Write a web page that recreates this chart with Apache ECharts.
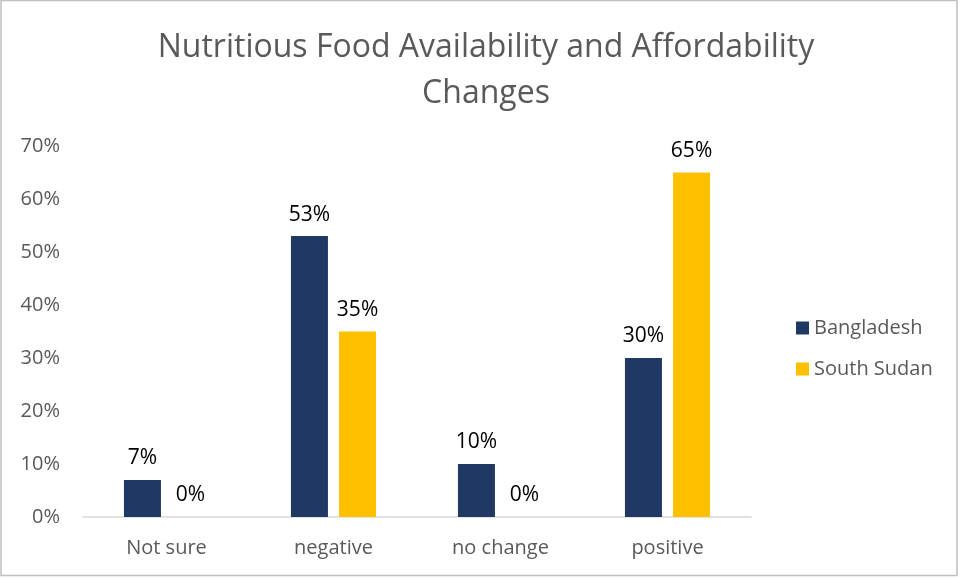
<!DOCTYPE html>
<html>
<head>
<meta charset="utf-8">
<script src="https://cdn.jsdelivr.net/npm/echarts@6/dist/echarts.min.js"></script>
<style>
  html, body { margin: 0; padding: 0; background: #fff; }
  #chart { width: 961px; height: 578px; }
</style>
</head>
<body>
<div id="chart"></div>
<script>
// Survey response categories and share of respondents (%)
const categories = ['Not sure', 'negative', 'no change', 'positive'];
const bangladesh = [7, 53, 10, 30];
const southSudan = [0, 35, 0, 65];
const yTicks = [0, 10, 20, 30, 40, 50, 60, 70];

const FONT = '"Open Sans", "Noto Sans", sans-serif';
const chart = echarts.init(document.getElementById('chart'));

const labelStyle = {
  show: true,
  position: 'top',
  distance: 11,
  formatter: p => p.value + '%',
  color: '#000',
  fontSize: 21,
  fontFamily: FONT
};

chart.setOption({
  animation: false,
  title: {
    text: 'Nutritious Food Availability and Affordability\nChanges',
    left: 481,
    textAlign: 'center',
    top: 20,
    textStyle: { color: '#595959', fontSize: 32, fontWeight: 'normal', fontFamily: FONT, lineHeight: 46 }
  },
  legend: {
    orient: 'vertical',
    left: 791,
    top: 313,
    itemWidth: 13,
    itemHeight: 13,
    itemGap: 21,
    icon: 'rect',
    textStyle: { color: '#595959', fontSize: 20, fontFamily: FONT },
    data: ['Bangladesh', 'South Sudan']
  },
  grid: { left: 83, right: 210, top: 146, bottom: 61 },
  xAxis: {
    type: 'category',
    data: categories,
    axisLine: { lineStyle: { color: '#d9d9d9', width: 1.5 } },
    axisTick: { show: false },
    axisLabel: { color: '#595959', fontSize: 20, fontFamily: FONT, margin: 21 }
  },
  yAxis: {
    type: 'value',
    min: yTicks[0],
    max: yTicks[yTicks.length - 1],
    interval: 10,
    splitLine: { show: false },
    axisLine: { show: false },
    axisTick: { show: false },
    axisLabel: { color: '#595959', fontSize: 20, fontFamily: FONT, margin: 23, formatter: v => v + '%' }
  },
  series: [
    {
      name: 'Bangladesh',
      type: 'bar',
      data: bangladesh,
      barWidth: 37,
      barGap: '30%',
      itemStyle: { color: '#203864' },
      label: labelStyle
    },
    {
      name: 'South Sudan',
      type: 'bar',
      data: southSudan,
      barWidth: 37,
      itemStyle: { color: '#FFC000' },
      label: labelStyle
    }
  ],
  graphic: [{
    type: 'rect',
    shape: { x: 1, y: 0.5, width: 956, height: 575 },
    style: { fill: 'none', stroke: '#bfbfbf', lineWidth: 1.5 },
    silent: true
  }]
});
</script>
</body>
</html>
